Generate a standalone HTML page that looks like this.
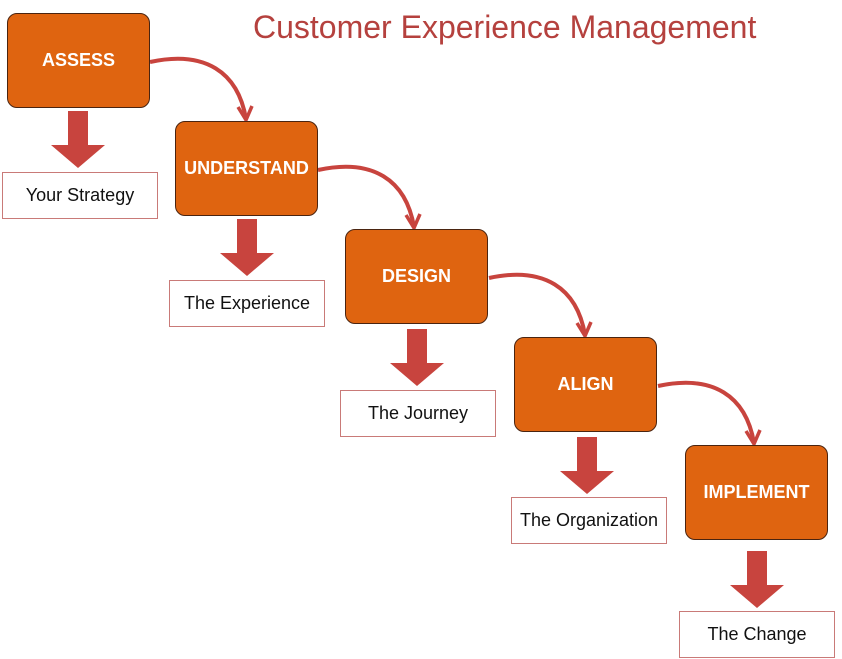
<!DOCTYPE html>
<html><head><meta charset="utf-8"><style>
body{margin:0;width:842px;height:659px;background:#fff;position:relative;overflow:hidden;font-family:"Liberation Sans",sans-serif}
.b{position:absolute;width:143px;height:95px;background:#df6410;border:1.5px solid #4a2410;border-radius:10px;box-sizing:border-box;color:#fff;font-weight:bold;font-size:18px;display:flex;align-items:center;justify-content:center}
.l{position:absolute;width:156px;height:47px;border:1.5px solid #c97a78;box-sizing:border-box;text-align:center;line-height:44px;font-size:18px;color:#111}
.t{position:absolute;left:253px;top:9px;font-size:32px;color:#b5413e;white-space:nowrap}
svg{position:absolute;left:0;top:0}
</style></head><body>
<div class="t">Customer Experience Management</div>
<svg width="842" height="659">
<defs><g id="d"><rect x="-10" y="0" width="20" height="34" fill="#c8443e"/><polygon points="-27,34 27,34 0,57" fill="#c8443e"/></g>
<g id="c"><path d="M0,0 C55,-12 88,10 96,57" fill="none" stroke="#c8443e" stroke-width="4"/><path d="M88,45 L96,58 L102,44" fill="none" stroke="#c8443e" stroke-width="3.5"/></g></defs>
<use href="#d" x="78" y="111"/><use href="#d" x="247" y="219"/><use href="#d" x="417" y="329"/><use href="#d" x="587" y="437"/><use href="#d" x="757" y="551"/>
<use href="#c" x="150" y="62"/><use href="#c" x="318" y="170"/><use href="#c" x="489" y="278"/><use href="#c" x="658" y="386"/>
</svg>
<div class="b" style="left:7px;top:13px">ASSESS</div>
<div class="b" style="left:175px;top:121px">UNDERSTAND</div>
<div class="b" style="left:345px;top:229px">DESIGN</div>
<div class="b" style="left:514px;top:337px">ALIGN</div>
<div class="b" style="left:685px;top:445px">IMPLEMENT</div>
<div class="l" style="left:2px;top:172px">Your Strategy</div>
<div class="l" style="left:169px;top:280px">The Experience</div>
<div class="l" style="left:340px;top:390px">The Journey</div>
<div class="l" style="left:511px;top:497px">The Organization</div>
<div class="l" style="left:679px;top:611px">The Change</div>
</body></html>
